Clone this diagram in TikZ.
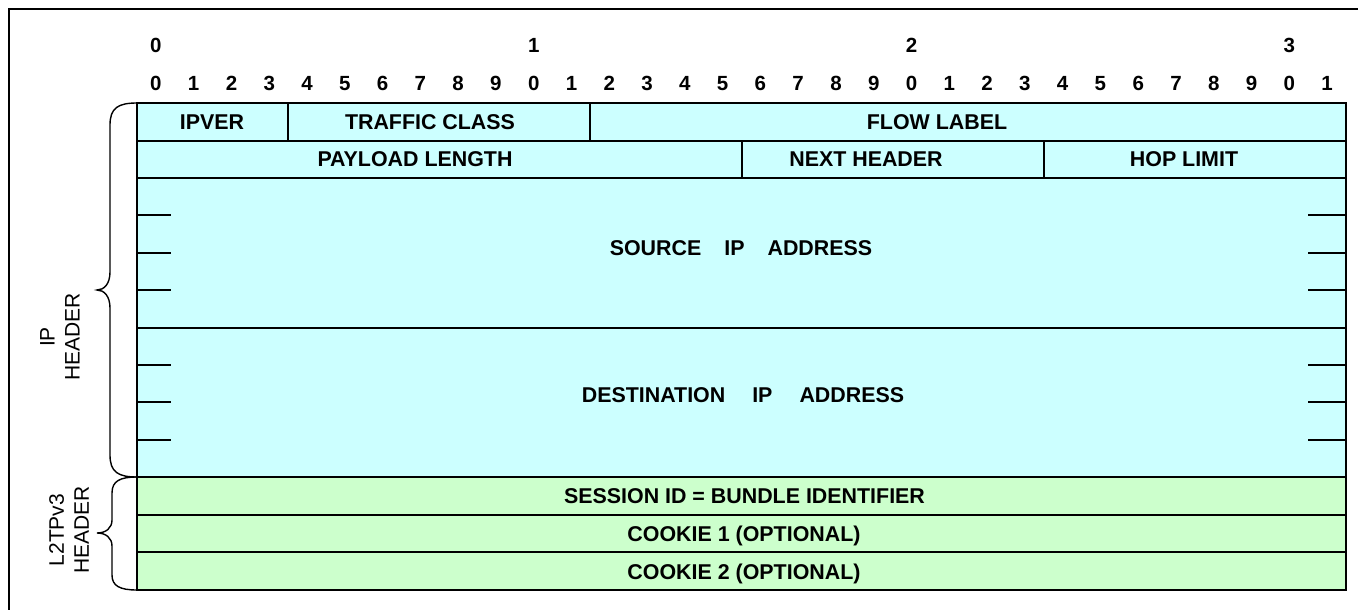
\documentclass[tikz,border=0pt]{standalone}
\usepackage{fontspec}
\setmainfont{Liberation Sans}
\definecolor{ipfill}{HTML}{CCFFFF}
\definecolor{l2fill}{HTML}{CCFFCC}
\begin{document}
\begin{tikzpicture}[x=1pt,y=-1pt,
  fld/.style={draw=black,line width=2pt,inner sep=0pt,outer sep=0pt,anchor=north west},
  lbl/.style={inner sep=0pt,text height=15.3pt,text depth=0pt,font=\fontsize{21.4}{25}\selectfont\bfseries},
  bitnum/.style={inner sep=0pt,text height=14.6pt,text depth=0pt,font=\fontsize{20.5}{24}\selectfont\bfseries},
  side/.style={inner sep=0pt,rotate=90,align=center,font=\fontsize{21}{25}\selectfont},
  tick/.style={line width=2pt},
  brace/.style={line width=1.4pt},
  frame/.style={line width=2pt}]
\useasboundingbox (0,0) rectangle (1358,610);
\def\bw{37.78125}
\def\xo{137}
% outer frame (only top and left visible)
\draw[frame] (9,612) -- (9,9) -- (1360,9);
% bit numbers
\foreach \t/\b in {0/0,1/10,2/20,3/30}
  \node[bitnum] (t\b) at ({\xo+\bw*(\b+0.5)},45.5) {\t};
\foreach \b in {0,...,31}{
  \pgfmathtruncatemacro{\u}{mod(\b,10)}
  \node[bitnum] (u\b) at ({\xo+\bw*(\b+0.5)},83) {\u};
}
% IP header fields
\node[fld,fill=ipfill,minimum width={4*\bw},minimum height=37.5] (ipver) at (\xo,103) {};
\node[fld,fill=ipfill,minimum width={8*\bw},minimum height=37.5] (tc) at ({\xo+4*\bw},103) {};
\node[fld,fill=ipfill,minimum width={20*\bw},minimum height=37.5] (fl) at ({\xo+12*\bw},103) {};
\node[fld,fill=ipfill,minimum width={16*\bw},minimum height=37.5] (pl) at (\xo,140.5) {};
\node[fld,fill=ipfill,minimum width={8*\bw},minimum height=37.5] (nh) at ({\xo+16*\bw},140.5) {};
\node[fld,fill=ipfill,minimum width={8*\bw},minimum height=37.5] (hl) at ({\xo+24*\bw},140.5) {};
\node[fld,fill=ipfill,minimum width={32*\bw},minimum height=149.5] (src) at (\xo,178) {};
\node[fld,fill=ipfill,minimum width={32*\bw},minimum height=149.5] (dst) at (\xo,327.5) {};
% L2TPv3 fields
\node[fld,fill=l2fill,minimum width={32*\bw},minimum height=37.7] (sess) at (\xo,477) {};
\node[fld,fill=l2fill,minimum width={32*\bw},minimum height=37.7] (ck1) at (\xo,514.7) {};
\node[fld,fill=l2fill,minimum width={32*\bw},minimum height=37.7] (ck2) at (\xo,552.4) {};
% field labels
\node[lbl] (ipvert) at (212,121.5) {IPVER};
\node[lbl] (tct) at (430,121.5) {TRAFFIC CLASS};
\node[lbl] (flt) at (937,121.5) {FLOW LABEL};
\node[lbl] (plt) at (415,159) {PAYLOAD LENGTH};
\node[lbl] (nht) at (866,159) {NEXT HEADER};
\node[lbl] (hlt) at (1184,159) {HOP LIMIT};
\node[lbl] (srct) at (741,247.5) {SOURCE\hspace{23pt}IP\hspace{23pt}ADDRESS};
\node[lbl] (dstt) at (743,395) {DESTINATION\hspace{27pt}IP\hspace{27pt}ADDRESS};
\node[lbl] (sesst) at (744.5,495.5) {SESSION ID = BUNDLE IDENTIFIER};
\node[lbl] (ck1t) at (744,534) {COOKIE 1 (OPTIONAL)};
\node[lbl] (ck2t) at (744,572) {COOKIE 2 (OPTIONAL)};
% tick marks in address fields
\foreach \y in {215.4,252.8,290.2,364.8,402.2,439.6}{
  \draw[tick] (137,\y) -- (171,\y);
  \draw[tick] (1308,\y) -- (1346,\y);
}
% braces
\draw[brace] (137,103) .. controls (118,103) and (110,108) .. (110,125) -- (110,272)
  .. controls (110,284) and (104,290) .. (97,290)
  .. controls (104,290) and (110,296) .. (110,308) -- (110,455)
  .. controls (110,472) and (118,477) .. (137,477);
\draw[brace] (137,477) .. controls (120,477) and (112,481) .. (112,493) -- (112,520)
  .. controls (112,528) and (106,533) .. (97,533)
  .. controls (106,533) and (112,538) .. (112,546) -- (112,575)
  .. controls (112,586) and (120,590) .. (137,590);
% side labels
\node[side] (iph) at (60,337) {IP\\HEADER};
\node[side] (l2h) at (69,530) {L2TPv3\\HEADER};
\end{tikzpicture}
\end{document}
